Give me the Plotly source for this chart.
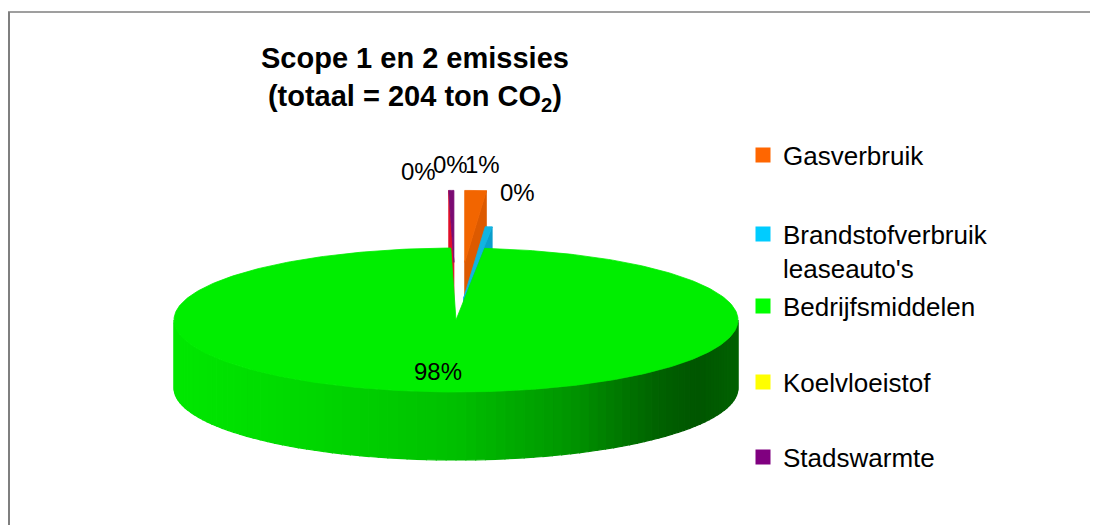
import numpy as np
import plotly.graph_objects as go

# ---------------- data ----------------
categories = ["Gasverbruik", "Brandstofverbruik<br>leaseauto's", "Bedrijfsmiddelen",
              "Koelvloeistof", "Stadswarmte"]
values_ton = [2.5, 0.8, 200.1, 0.0, 0.6]
legend_colors = ["#FF6600", "#00CCFF", "#00FF00", "#FFFF00", "#800080"]
title_text = "Scope 1 en 2 emissies<br>(totaal = 204 ton CO<sub>2</sub>)"

# ---------------- style ----------------
top_colors = ["#F26500", "#10B4E2", "#00EE00", "#EEEE00", "#7A0A72"]
cut_colors = ["#DD5A00", "#0A9ECC", "#00B000", "#D0D000", "#E0102A"]
pulls = [0.8, 0.3, 0.0, 0.8, 0.8]
label_shift = [(4, -4), (16, 2), (-9, -2), (5, -4), (-32, 3)]   # pixel offsets (right, down)
legend_centers = [155, 251, 306, 382, 457]

W, H = 1098, 525          # window size
OX, OY = 8, 8             # page body margin
FW, FH = W - OX, H - OY   # figure size
CX, CY, RX, RY, DEPTH = 456, 320, 282, 72, 68
START_DEG = 0.0
FONT = "Arial, Liberation Sans, sans-serif"


def px(xw):
    return (xw - OX) / FW


def py(yw):
    return 1 - (yw - OY) / FH


def pt(r, th, dx, dy, down=0.0):
    t = np.radians(th)
    return CX + dx + r * RX * np.sin(t), CY + dy - r * RY * np.cos(t) + down


def poly(xs, ys, color, lw=0.8):
    return go.Scatter(x=list(xs) + [xs[0]], y=list(ys) + [ys[0]], mode="lines",
                      fill="toself", fillcolor=color,
                      line=dict(color=color, width=lw),
                      hoverinfo="skip", showlegend=False)


def wall_shade(u):
    g = np.interp(u, [-1, -0.5, 0, 0.4, 0.7, 0.85, 1],
                  [232, 215, 192, 150, 100, 86, 98])
    return int(g)


total = sum(values_ton)
fracs = [v / total for v in values_ton]
bounds = []
acc = START_DEG
for f in fracs:
    bounds.append((acc, acc + f * 360.0))
    acc += f * 360.0

slices = []
for i, (a0, a1) in enumerate(bounds):
    thm = 0.5 * (a0 + a1)
    p = pulls[i]
    dx = p * RX * np.sin(np.radians(thm))
    dy = -p * RY * np.cos(np.radians(thm))
    key = CY + dy - 0.6 * RY * np.cos(np.radians(thm))
    slices.append(dict(i=i, a0=a0, a1=a1, thm=thm, dx=dx, dy=dy, key=key))

traces = []
for s in sorted(slices, key=lambda d: d["key"]):
    i, a0, a1, dx, dy = s["i"], s["a0"], s["a1"], s["dx"], s["dy"]
    if a1 - a0 <= 1e-9:
        continue
    ax, ay = pt(0, 0, dx, dy)
    # cut faces that face the viewer
    for a, vis in ((a0, np.sin(np.radians(a0)) < -1e-9), (a1, np.sin(np.radians(a1)) > 1e-9)):
        if vis:
            ox, oy = pt(1, a, dx, dy)
            traces.append(poly([ax, ox, ox, ax], [ay, oy, oy + DEPTH, ay + DEPTH], cut_colors[i]))
    # outer wall (front half only)
    w0, w1 = max(a0, 90.0), min(a1, 270.0)
    if w1 > w0:
        n = max(2, int(w1 - w0) // 2)
        ths = np.linspace(w0, w1, n + 1)
        for j in range(n):
            t0, t1 = ths[j], ths[j + 1]
            x0, y0 = pt(1, t0, dx, dy)
            x1, y1 = pt(1, t1, dx, dy)
            if i == 2:
                g = wall_shade(np.sin(np.radians(0.5 * (t0 + t1))))
                col = f"rgb(0,{g},0)"
            else:
                col = cut_colors[i]
            traces.append(poly([x0, x1, x1, x0], [y0, y1, y1 + DEPTH, y0 + DEPTH], col, lw=1.2))
    # top face
    n = max(2, int(a1 - a0) + 2)
    ths = np.linspace(a0, a1, n)
    xs, ys = pt(1, ths, dx, dy)
    traces.append(poly([ax] + list(xs), [ay] + list(ys), top_colors[i], lw=0.8))

fig = go.Figure(traces)

# legend entries (one legend per item for exact placement)
for i, name in enumerate(categories):
    lg = "legend" if i == 0 else f"legend{i + 1}"
    fig.add_trace(go.Scatter(x=[None], y=[None], mode="markers", name=name,
                             marker=dict(symbol="square", size=15, color=legend_colors[i]),
                             legend=lg, showlegend=True, hoverinfo="skip"))

legend_layout = {}
for i in range(len(categories)):
    lg = "legend" if i == 0 else f"legend{i + 1}"
    legend_layout[lg] = dict(x=px(743), y=py(legend_centers[i]), xanchor="left",
                             yanchor="middle", bgcolor="rgba(0,0,0,0)", valign="top",
                             font=dict(family=FONT, size=26, color="black"))

# data labels
annotations = []
for s in slices:
    i = s["i"]
    small = fracs[i] < 0.05
    r = pulls[i] + (1.3 if small else 0.75)
    if small and pulls[i] < 0.5:
        r = 1.8
    lx, ly = pt(r, s["thm"], 0, 0)
    sx, sy = label_shift[i]
    annotations.append(dict(x=lx, y=ly, xref="x", yref="y", text=f"{round(fracs[i] * 100)}%",
                            showarrow=False, xshift=sx, yshift=-sy,
                            font=dict(family=FONT, size=24, color="black")))

# chart title
annotations.append(dict(x=px(415), y=py(79), xref="paper", yref="paper", text=title_text,
                        showarrow=False, xanchor="center", yanchor="middle",
                        font=dict(family=FONT, size=29, color="black", weight="bold")))

fig.update_layout(
    width=FW, height=FH,
    margin=dict(l=0, r=0, t=0, b=0),
    paper_bgcolor="white", plot_bgcolor="white",
    xaxis=dict(range=[OX, W], visible=False, fixedrange=True),
    yaxis=dict(range=[H, OY], visible=False, fixedrange=True),
    annotations=annotations,
    shapes=[
        dict(type="line", xref="paper", yref="paper", x0=0, x1=1, y0=py(12), y1=py(12),
             line=dict(color="#404040", width=1.2)),
        dict(type="line", xref="paper", yref="paper", x0=1 / FW, x1=1 / FW, y0=0, y1=py(12),
             line=dict(color="#7F7F7F", width=2)),
    ],
    **legend_layout,
)

fig.write_html("out.html")
